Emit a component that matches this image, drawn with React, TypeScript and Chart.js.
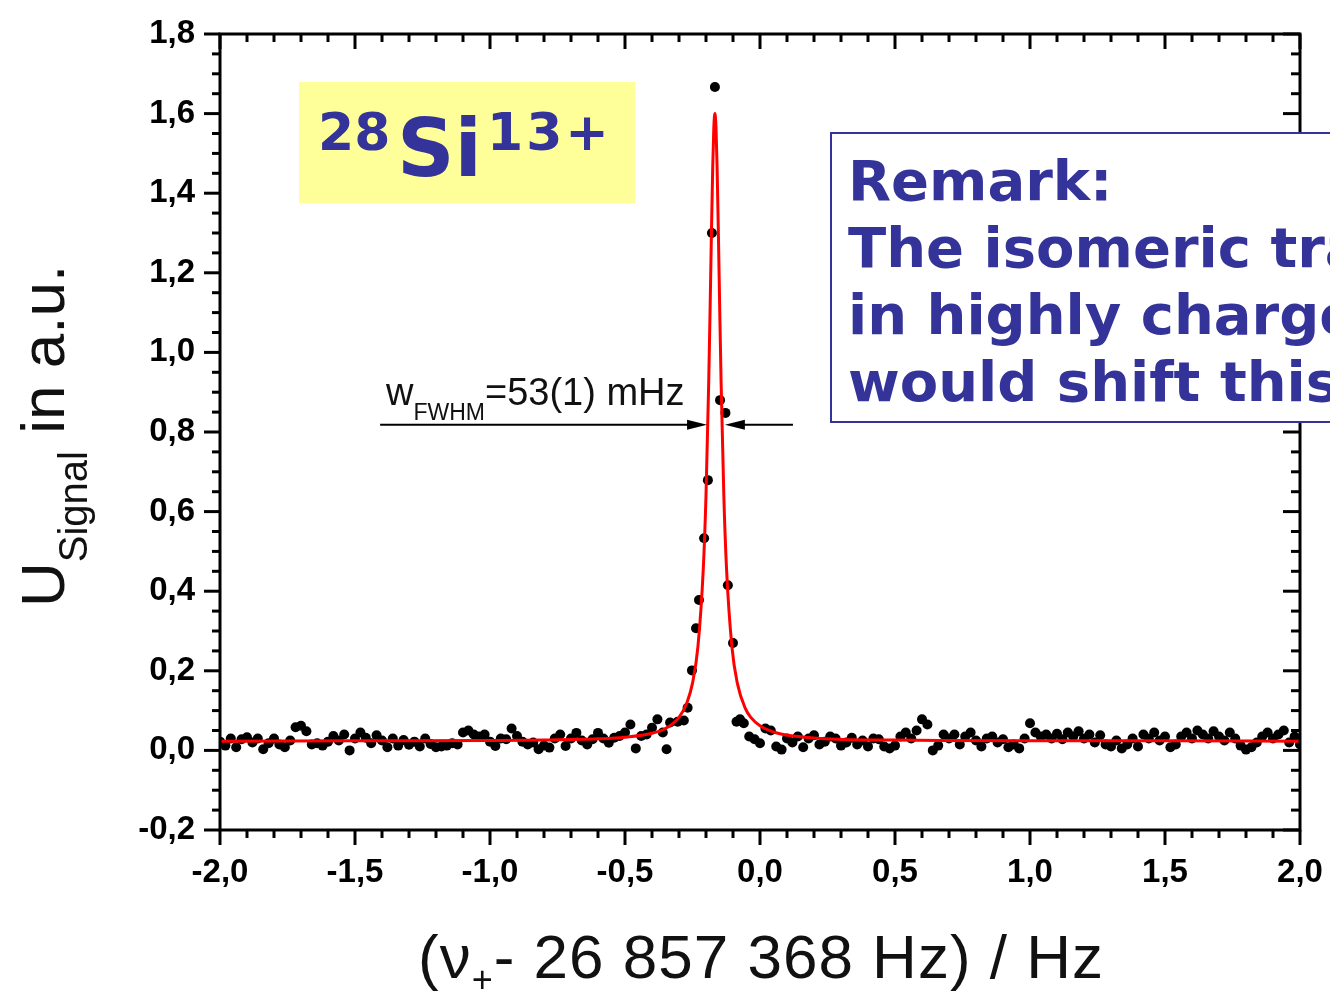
import React, { useEffect, useRef } from 'react';
import { Chart, registerables } from 'chart.js';

Chart.register(...registerables);

// ---- axis ranges / ticks ----
const xMin = -2.0;
const xMax = 2.0;
const xMinorStep = 0.1;
const xMajorStep = 0.5;
const yMin = -0.2;
const yMax = 1.8;
const yMinorStep = 0.05;
const yMajorStep = 0.2;

// ---- measured signal (frequency sweep) ----
const sweepStep = 0.02;
const leftBaselineStart = -2.0;
const leftBaselineY = [
  0.022, 0.012, 0.030, 0.008, 0.028, 0.033, 0.020, 0.030, 0.003, 0.018,
  0.030, 0.015, 0.008, 0.025, 0.058, 0.062, 0.048, 0.015, 0.018, 0.012,
  0.022, 0.036, 0.025, 0.040, 0.000, 0.030, 0.045, 0.032, 0.018, 0.038,
  0.025, 0.008, 0.030, 0.012, 0.026, 0.014, 0.022, 0.010, 0.030, 0.016,
  0.008, 0.010, 0.012, 0.018, 0.015, 0.045, 0.050, 0.040, 0.035, 0.040,
  0.022, 0.011, 0.030, 0.028, 0.055, 0.036, 0.022, 0.015, 0.020, 0.003,
  0.012, 0.007, 0.030, 0.040, 0.011, 0.030, 0.044, 0.025, 0.015, 0.028,
  0.044, 0.030, 0.019, 0.032, 0.036, 0.045, 0.065, 0.005, 0.036, 0.040,
  0.057, 0.078, 0.045,
];
const peakX = [
  -0.346, -0.333, -0.305, -0.282, -0.268, -0.252, -0.237, -0.226, -0.207, -0.193,
  -0.178, -0.167, -0.148, -0.128, -0.119, -0.100, -0.087, -0.074, -0.060,
];
const peakY = [
  0.003, 0.070, 0.072, 0.075, 0.107, 0.201, 0.307, 0.378, 0.533, 0.679,
  1.300, 1.667, 0.880, 0.848, 0.415, 0.270, 0.072, 0.078, 0.068,
];
const rightBaselineStart = -0.04;
const rightBaselineY = [
  0.035, 0.028, 0.018, 0.055, 0.050, 0.010, 0.002, 0.030, 0.020, 0.035,
  0.008, 0.030, 0.038, 0.015, 0.022, 0.035, 0.030, 0.012, 0.020, 0.032,
  0.015, 0.025, 0.010, 0.030, 0.028, 0.010, 0.005, 0.012, 0.035, 0.045,
  0.030, 0.050, 0.078, 0.065, 0.000, 0.012, 0.040, 0.030, 0.040, 0.015,
  0.035, 0.045, 0.025, 0.010, 0.030, 0.035, 0.020, 0.028,
  0.008, 0.015, 0.005, 0.030, 0.068, 0.045, 0.035, 0.040, 0.030, 0.042,
  0.028, 0.045, 0.035, 0.048, 0.030, 0.040, 0.020, 0.038, 0.015, 0.010,
  0.025, 0.005, 0.015, 0.030, 0.010, 0.040, 0.030, 0.045, 0.025, 0.035,
  0.008, 0.015, 0.035, 0.045, 0.030, 0.050, 0.040, 0.030, 0.048, 0.035,
  0.025, 0.045, 0.030, 0.012, 0.002, 0.008, 0.020, 0.035, 0.045, 0.030,
  0.040, 0.050, 0.020, 0.035, 0.015,
];

// ---- fitted curve ----
const fitX = [
  -2.0, -1.5, -1.0, -0.8, -0.6, -0.5, -0.4, -0.35, -0.3, -0.27,
  -0.25, -0.23, -0.21, -0.2, -0.19, -0.185, -0.18, -0.175, -0.171, -0.167,
  -0.163, -0.159, -0.154, -0.149, -0.144, -0.134, -0.124, -0.104, -0.084, -0.054,
  -0.034, 0.0, 0.066, 0.166, 0.333, 0.5, 0.666, 1.0, 1.5, 2.0,
];
const fitY = [
  0.023, 0.024, 0.025, 0.026, 0.029, 0.033, 0.043, 0.055, 0.083, 0.121,
  0.169, 0.260, 0.457, 0.641, 0.923, 1.102, 1.294, 1.468, 1.565, 1.600,
  1.565, 1.468, 1.294, 1.102, 0.923, 0.641, 0.457, 0.260, 0.169, 0.105,
  0.083, 0.062, 0.043, 0.033, 0.027, 0.026, 0.025, 0.024, 0.024, 0.023,
];

// ---- FWHM arrows (data units) ----
const fwhmArrowY = 0.818;
const fwhmLeftArrow = [-1.407, -0.196]; // [start, tip]
const fwhmRightArrow = [0.122, -0.13]; // [start, tip]

const isMultiple = (v: number, step: number) => {
  const k = v / step;
  return Math.abs(k - Math.round(k)) < 1e-6;
};
const fmt = (v: number) => (Math.abs(v) < 1e-9 ? 0 : v).toFixed(1).replace('.', ',');

const framePlugin = {
  id: 'frameTicks',
  afterDraw(chart: any) {
    const { ctx, chartArea } = chart;
    const { left, right, top, bottom } = chartArea;
    const xs = chart.scales.x;
    const ys = chart.scales.y;
    ctx.save();
    ctx.strokeStyle = '#000';
    ctx.lineWidth = 3;
    ctx.lineCap = 'butt';
    ctx.strokeRect(left, top, right - left, bottom - top);
    const seg = (x1: number, y1: number, x2: number, y2: number) => {
      ctx.beginPath();
      ctx.moveTo(x1, y1);
      ctx.lineTo(x2, y2);
      ctx.stroke();
    };
    xs.ticks.forEach((t: any) => {
      const p = xs.getPixelForValue(t.value);
      const len = isMultiple(t.value, xMajorStep) ? 15 : 8;
      seg(p, bottom, p, bottom + len);
      seg(p, top, p, top + len);
    });
    ys.ticks.forEach((t: any) => {
      const p = ys.getPixelForValue(t.value);
      const len = isMultiple(t.value, yMajorStep) ? 16 : 8;
      seg(left, p, left - len, p);
      seg(right, p, right - len - 1, p);
    });
    ctx.restore();
  },
};

const arrowPlugin = {
  id: 'fwhmArrows',
  afterDatasetsDraw(chart: any) {
    const { ctx } = chart;
    const xs = chart.scales.x;
    const ys = chart.scales.y;
    const py = ys.getPixelForValue(fwhmArrowY);
    ctx.save();
    ctx.strokeStyle = '#000';
    ctx.fillStyle = '#000';
    ctx.lineWidth = 2;
    [fwhmLeftArrow, fwhmRightArrow].forEach(([from, tip]) => {
      const p0 = xs.getPixelForValue(from);
      const p1 = xs.getPixelForValue(tip);
      const dir = p1 > p0 ? 1 : -1;
      ctx.beginPath();
      ctx.moveTo(p0, py);
      ctx.lineTo(p1 - dir * 10, py);
      ctx.stroke();
      ctx.beginPath();
      ctx.moveTo(p1, py);
      ctx.lineTo(p1 - dir * 20, py - 5);
      ctx.lineTo(p1 - dir * 20, py + 5);
      ctx.closePath();
      ctx.fill();
    });
    ctx.restore();
  },
};

const tickFont = { family: '"Liberation Sans", Arial, sans-serif', size: 33, weight: 'bold' as const };

export default function App() {
  const canvasRef = useRef<HTMLCanvasElement | null>(null);

  useEffect(() => {
    if (!canvasRef.current) return;
    const measured = [
      ...leftBaselineY.map((y, i) => ({ x: +(leftBaselineStart + i * sweepStep).toFixed(3), y })),
      ...peakX.map((x, i) => ({ x, y: peakY[i] })),
      ...rightBaselineY.map((y, i) => ({ x: +(rightBaselineStart + i * sweepStep).toFixed(3), y })),
    ];
    const fit = fitX.map((x, i) => ({ x, y: fitY[i] }));

    const chart = new Chart(canvasRef.current, {
      type: 'scatter',
      data: {
        datasets: [
          {
            type: 'line',
            data: fit,
            borderColor: '#ff0000',
            borderWidth: 3,
            pointRadius: 0,
            fill: false,
            cubicInterpolationMode: 'monotone',
            order: 0,
          } as any,
          {
            type: 'scatter',
            data: measured,
            backgroundColor: '#000',
            borderWidth: 0,
            pointRadius: 5,
            order: 1,
          } as any,
        ],
      },
      options: {
        animation: false,
        responsive: false,
        devicePixelRatio: 1,
        layout: { padding: { top: 34, right: 30, left: 0, bottom: 0 } },
        plugins: { legend: { display: false }, tooltip: { enabled: false } },
        scales: {
          x: {
            type: 'linear',
            min: xMin,
            max: xMax,
            grid: { display: false },
            border: { display: false },
            ticks: {
              stepSize: xMinorStep,
              autoSkip: false,
              maxRotation: 0,
              minRotation: 0,
              padding: 15,
              color: '#000',
              font: tickFont,
              callback: (v: any) => (isMultiple(Number(v), xMajorStep) ? fmt(Number(v)) : ''),
            },
            afterFit: (s: any) => {
              s.height = 165;
              s.paddingLeft = 0;
              s.paddingRight = 0;
            },
          },
          y: {
            type: 'linear',
            min: yMin,
            max: yMax,
            grid: { display: false },
            border: { display: false },
            ticks: {
              stepSize: yMinorStep,
              autoSkip: false,
              padding: 17,
              color: '#000',
              font: tickFont,
              callback: (v: any) => (isMultiple(Number(v), yMajorStep) ? fmt(Number(v)) : ''),
            },
            afterFit: (s: any) => {
              s.width = 220;
              s.paddingTop = 0;
              s.paddingBottom = 0;
            },
          },
        },
      } as any,
      plugins: [framePlugin, arrowPlugin],
    });
    return () => chart.destroy();
  }, []);

  const blue = '#333399';
  const sansBold = '"DejaVu Sans", Verdana, sans-serif';
  const arial = '"Liberation Sans", Arial, sans-serif';

  return (
    <div
      style={{
        position: 'fixed',
        left: 0,
        top: 0,
        width: 1330,
        height: 995,
        overflow: 'hidden',
        background: '#fff',
      }}
    >
      <canvas ref={canvasRef} width={1330} height={995} style={{ position: 'absolute', left: 0, top: 0 }} />

      {/* isotope label */}
      <div style={{ position: 'absolute', left: 299, top: 82, width: 336, height: 121, background: '#ffff99' }} />
      <div style={{ position: 'absolute', left: 318, top: 106, fontFamily: sansBold, fontWeight: 'bold', fontSize: 52, lineHeight: '52px', color: blue, whiteSpace: 'nowrap' }}>28</div>
      <div style={{ position: 'absolute', left: 397, top: 109, fontFamily: sansBold, fontWeight: 'bold', fontSize: 80, lineHeight: '80px', color: blue, whiteSpace: 'nowrap' }}>Si</div>
      <div style={{ position: 'absolute', left: 487, top: 106, fontFamily: sansBold, fontWeight: 'bold', fontSize: 52, lineHeight: '52px', letterSpacing: 3, color: blue, whiteSpace: 'nowrap' }}>13+</div>

      {/* remark box */}
      <div style={{ position: 'absolute', left: 830, top: 132, width: 560, height: 291, boxSizing: 'border-box', border: `2px solid ${blue}`, background: '#fff' }} />
      <div style={{ position: 'absolute', left: 848, top: 147, fontFamily: sansBold, fontWeight: 'bold', fontSize: 56, lineHeight: '67px', color: blue, whiteSpace: 'pre' }}>
        {'Remark:\nThe isomeric transition\nin highly charged\nwould shift this'}
      </div>

      {/* FWHM annotation */}
      <div style={{ position: 'absolute', left: 386, top: 373, fontFamily: arial, fontSize: 38, lineHeight: '38px', color: '#111', whiteSpace: 'nowrap' }}>
        w<span style={{ fontSize: 23, position: 'relative', top: 15 }}>FWHM</span>=53(1) mHz
      </div>

      {/* x axis title */}
      <div style={{ position: 'absolute', left: 761, top: 926, transform: 'translateX(-50%)', fontFamily: arial, fontSize: 62, lineHeight: '62px', letterSpacing: 1, color: '#111', whiteSpace: 'nowrap' }}>
        (ν<span style={{ fontSize: 36, position: 'relative', top: 14 }}>+</span>- 26 857 368 Hz) / Hz
      </div>

      {/* y axis title */}
      <div style={{ position: 'absolute', left: 12, top: 607, transform: 'rotate(-90deg)', transformOrigin: '0 0', fontFamily: arial, fontSize: 62, lineHeight: '62px', color: '#111', whiteSpace: 'nowrap' }}>
        U<span style={{ fontSize: 40, position: 'relative', top: 23 }}>Signal</span> in a.u.
      </div>
    </div>
  );
}
